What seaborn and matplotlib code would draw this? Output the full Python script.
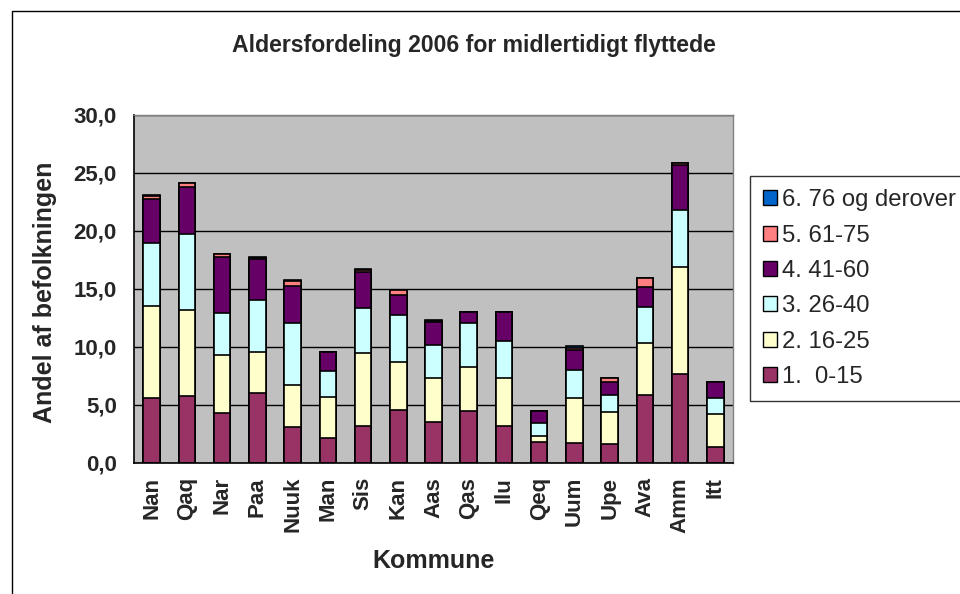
import numpy as np
import pandas as pd
import matplotlib
matplotlib.use("Agg")
import matplotlib.pyplot as plt
from matplotlib.patches import Rectangle, Patch
from matplotlib.ticker import FuncFormatter, FixedLocator
import seaborn as sns

sns.set_theme(style="white")
plt.rcParams["font.family"] = ["Liberation Sans", "DejaVu Sans"]

# Data (percent of population)
kommuner = ["Nan", "Qaq", "Nar", "Paa", "Nuuk", "Man", "Sis", "Kan", "Aas",
            "Qas", "Ilu", "Qeq", "Uum", "Upe", "Ava", "Amm", "Itt"]
age_0_15 = [5.6, 5.75, 4.3, 6.0, 3.1, 2.15, 3.2, 4.55, 3.5, 4.45, 3.2, 1.85, 1.7, 1.6, 5.9, 7.65, 1.35]
age_16_25 = [7.9, 7.4, 5.0, 3.55, 3.6, 3.5, 6.3, 4.15, 3.85, 3.85, 4.15, 0.5, 3.9, 2.8, 4.45, 9.25, 2.9]
age_26_40 = [5.5, 6.6, 3.6, 4.5, 5.35, 2.3, 3.9, 4.05, 2.8, 3.75, 3.2, 1.1, 2.4, 1.5, 3.1, 4.95, 1.35]
age_41_60 = [3.8, 4.05, 4.85, 3.5, 3.25, 1.6, 3.05, 1.7, 2.0, 0.95, 2.45, 1.05, 1.75, 1.05, 1.7, 3.8, 1.4]
age_61_75 = [0.25, 0.35, 0.25, 0.1, 0.35, 0.0, 0.15, 0.5, 0.05, 0.0, 0.0, 0.0, 0.2, 0.4, 0.8, 0.2, 0.0]
age_76_plus = [0.05, 0.0, 0.0, 0.1, 0.15, 0.0, 0.15, 0.0, 0.1, 0.0, 0.0, 0.0, 0.1, 0.0, 0.0, 0.0, 0.0]

groups = ["1.  0-15", "2. 16-25", "3. 26-40", "4. 41-60", "5. 61-75", "6. 76 og derover"]
series = [age_0_15, age_16_25, age_26_40, age_41_60, age_61_75, age_76_plus]
colors = ["#993366", "#FFFFCC", "#CCFFFF", "#660066", "#FF8080", "#0066CC"]

# cumulative tops for stacking
df = pd.DataFrame(dict(zip(groups, series)), index=kommuner)
cum = df.cumsum(axis=1)

fig = plt.figure(figsize=(9.6, 5.94), dpi=100)
ax = fig.add_axes([134 / 960, 1 - 463 / 594, (733 - 134) / 960, (463 - 115) / 594])
ax.set_facecolor("#C0C0C0")

ax.yaxis.grid(True, color="black", linewidth=1)
ax.set_axisbelow(True)

# draw from the top segment down so each lower segment overlays the one above
for g, c in zip(reversed(groups), reversed(colors)):
    d = pd.DataFrame({"Kommune": kommuner, "top": cum[g].values})
    sns.barplot(data=d, x="Kommune", y="top", order=kommuner, color=c,
                width=0.47, edgecolor="black", linewidth=1.2, errorbar=None,
                saturation=1, ax=ax)

ax.set_ylim(0, 30)
ax.set_xlim(-0.5, len(kommuner) - 0.5)
ax.set_yticks(np.arange(0, 31, 5))
ax.yaxis.set_major_formatter(FuncFormatter(lambda v, p: f"{v:.1f}".replace(".", ",")))
ax.tick_params(axis="y", direction="out", length=4.3, width=1, color="black",
               labelsize=16, pad=8)
for t in ax.get_yticklabels():
    t.set_fontweight("bold")

ax.tick_params(axis="x", which="major", length=0, labelsize=16, pad=10)
ax.set_xticks(range(len(kommuner)))
ax.set_xticklabels(kommuner, rotation=90, fontweight="bold")
ax.xaxis.set_minor_locator(FixedLocator(np.arange(-0.5, len(kommuner), 1)))
ax.tick_params(axis="x", which="minor", direction="out", length=4.3, width=1, color="black")

ax.set_xlabel("Kommune", fontsize=18, fontweight="bold")
ax.set_ylabel("Andel af befolkningen", fontsize=18, fontweight="bold")
ax.xaxis.set_label_coords((434 - 134) / 599, (463 - 549) / 348)
ax.yaxis.set_label_coords((57 - 134) / 599, 0.49)

for s in ["left", "bottom"]:
    ax.spines[s].set_color("black")
    ax.spines[s].set_linewidth(1.2)
for s in ["top", "right"]:
    ax.spines[s].set_color("#808080")
    ax.spines[s].set_linewidth(1)

fig.text(474 / 960, 1 - 45.5 / 594, "Aldersfordeling 2006 for midlertidigt flyttede",
         ha="center", va="center", fontsize=16.6, fontweight="bold")

handles = [Patch(facecolor=c, edgecolor="black", linewidth=1) for c in reversed(colors)]
leg = fig.legend(handles, list(reversed(groups)), loc="upper left",
                 bbox_to_anchor=(750 / 960, 1 - 176 / 594), frameon=True,
                 fancybox=False, edgecolor="black", fontsize=17.2,
                 handlelength=0.6, handleheight=0.6, handletextpad=0.2,
                 labelspacing=0.56, borderpad=0.55, borderaxespad=0)
leg.get_frame().set_linewidth(1)

# outer chart border
fig.add_artist(Rectangle((12 / 960, -0.1), 1.2, 1.1 - 11 / 594, transform=fig.transFigure,
                         fill=False, edgecolor="black", linewidth=1, clip_on=False))

fig.savefig("out.png", dpi=100, facecolor="white")
